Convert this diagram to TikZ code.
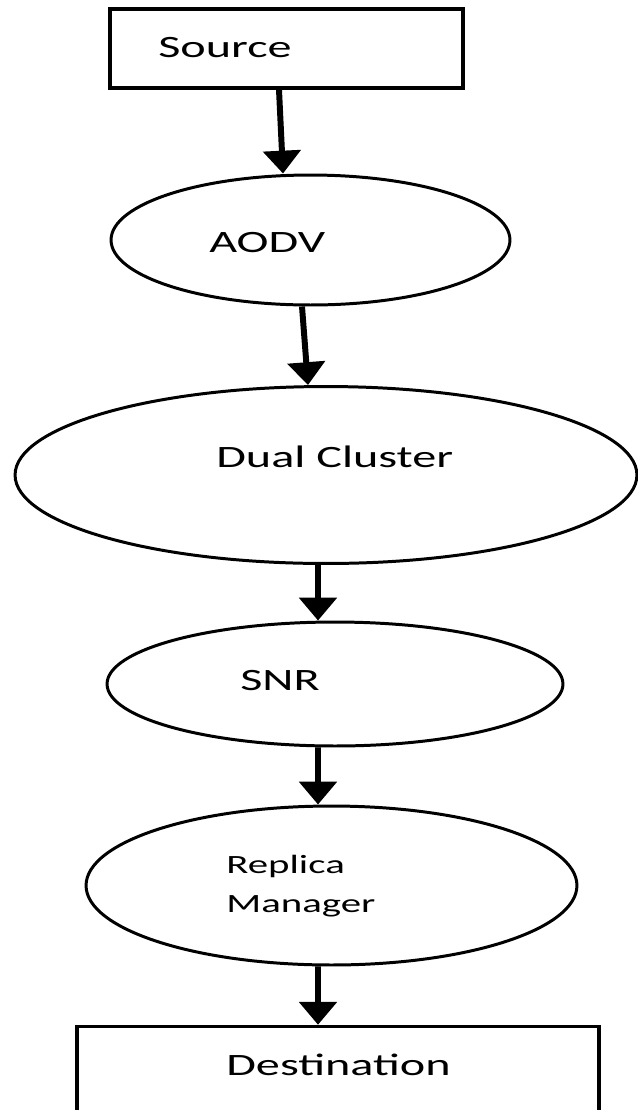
\documentclass[tikz,border=0pt]{standalone}
\usepackage{fontspec}
\setmainfont{Carlito}
\usepackage{graphicx}
\usetikzlibrary{arrows.meta}
\usetikzlibrary{shapes.geometric}
\newcommand{\wide}[1]{\scalebox{1.55}[1]{#1}}

\begin{document}
\begin{tikzpicture}[x=0.02cm, y=-0.02cm,
        boite/.style={draw, line width=2pt, rectangle, inner sep=0pt},
        bulle/.style={draw, line width=1.7pt, ellipse, inner sep=0pt},
        lbl/.style={anchor=base west, inner sep=0pt, font=\fontsize{17.7}{21}\selectfont},
        petit/.style={anchor=base west, inner sep=0pt, font=\fontsize{15}{18}\selectfont},
        fleche/.style={line width=3.4pt, -{Triangle[width=21pt, length=13pt]}}]
            \useasboundingbox (0,0) rectangle (638,1110);
            \node [boite, minimum width=7.06cm, minimum height=1.58cm] (src) at (286.5,48.5) {};
            \node [bulle, minimum width=7.98cm, minimum height=2.6cm] (aodv) at (310.5,240) {};
            \node [bulle, minimum width=12.44cm, minimum height=3.54cm] (dual) at (326,475) {};
            \node [bulle, minimum width=9.12cm, minimum height=2.48cm] (snr) at (335,684) {};
            \node [bulle, minimum width=9.82cm, minimum height=3.18cm] (rep) at (331.5,885.5) {};
            \node [boite, minimum width=10.44cm, minimum height=2.66cm] (dest) at (338,1093) {};
            % textes
            \node [lbl] (srct) at (158,57) {\wide{Source}};
            \node [lbl] (aodvt) at (209,252) {\wide{AODV}};
            \node [lbl] (dualt) at (216,467) {\wide{Dual Cluster}};
            \node [lbl] (snrt) at (240,690) {\wide{SNR}};
            \node [petit] (rept) at (226,873) {\wide{Replica}};
            \node [petit] (mant) at (226,912) {\wide{Manager}};
            \node [lbl] (destt) at (226,1075) {\wide{Destination}};
            % fleches
            \draw [fleche] ([xshift=-0.15cm]src.south) -- ([xshift=-0.55cm]aodv.north);
            \draw [fleche] ([xshift=-0.17cm]aodv.south) -- ([xshift=-0.36cm]dual.north);
            \draw [fleche] ([xshift=-0.16cm]dual.south) -- ([xshift=-0.34cm]snr.north);
            \draw [fleche] ([xshift=-0.34cm]snr.south) -- ([xshift=-0.27cm]rep.north);
            \draw [fleche] ([xshift=-0.27cm]rep.south) -- ([xshift=-0.4cm]dest.north);
        \end{tikzpicture}
\end{document}
